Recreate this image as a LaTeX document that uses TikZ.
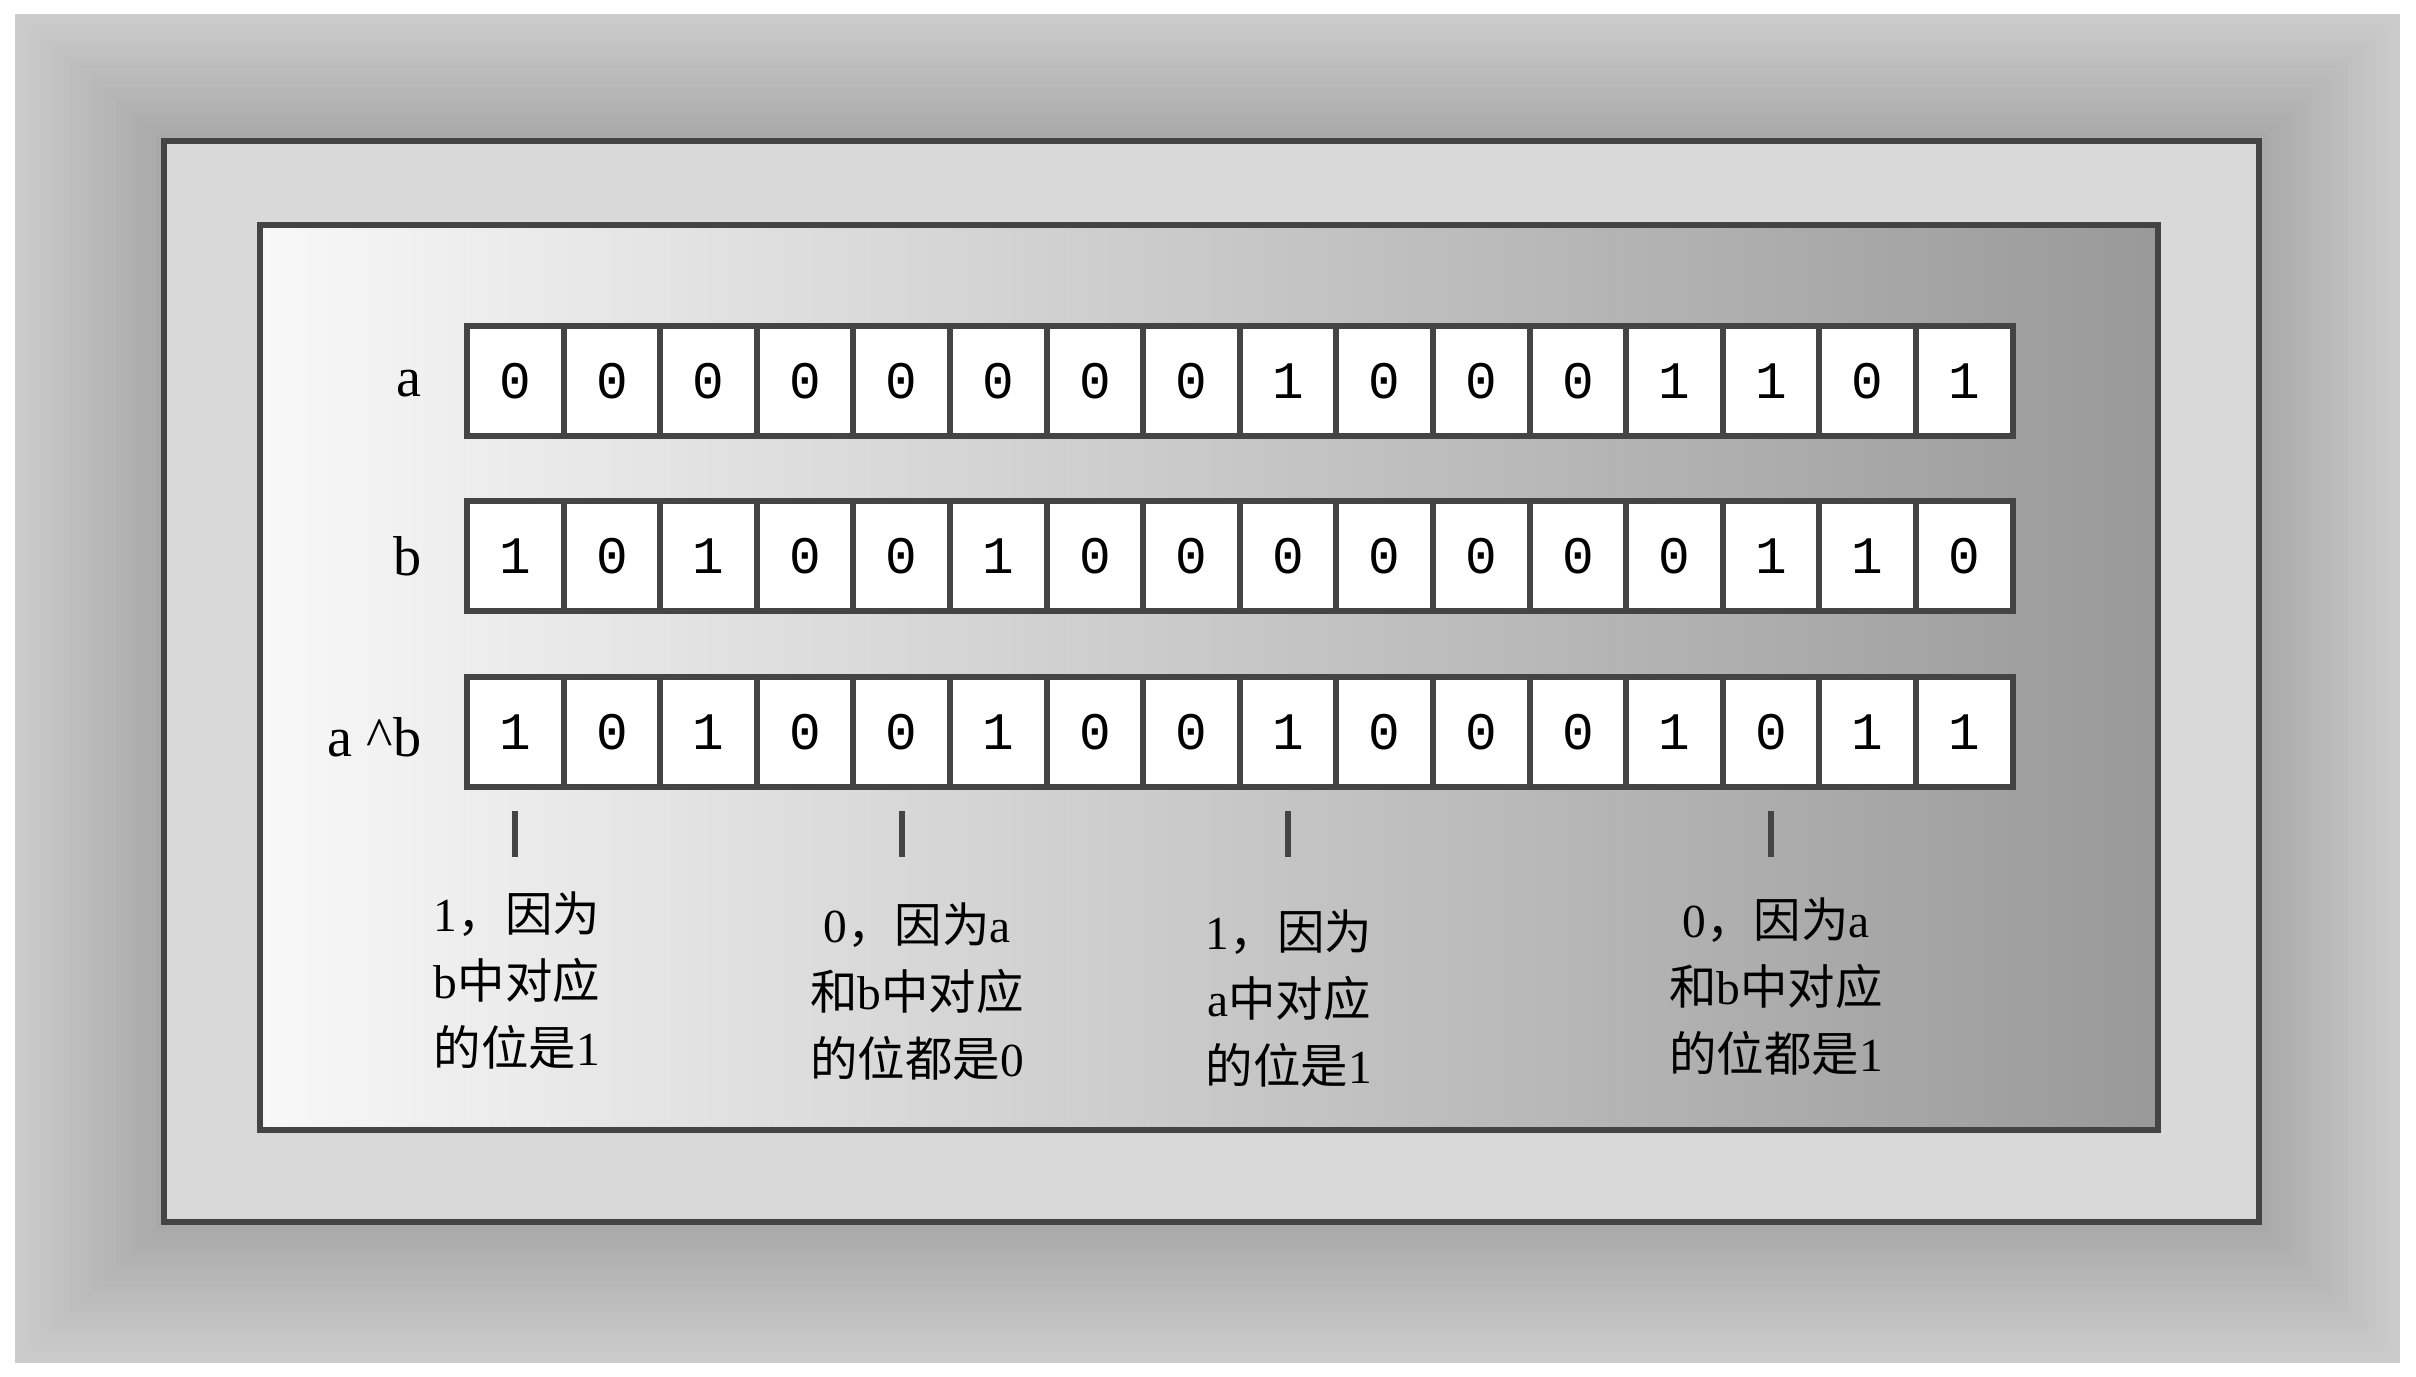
\documentclass[tikz,border=0pt]{standalone}
\usepackage{fontspec}
\setmainfont{Liberation Serif}
\newfontfamily\cjk{Noto Sans CJK SC}
\newfontfamily\mono{Liberation Mono}
\usetikzlibrary{positioning, calc}
\definecolor{edge}{HTML}{444444}
\definecolor{frame}{HTML}{D9D9D9}
\definecolor{haloout}{HTML}{CCCCCC}
\definecolor{haloin}{HTML}{A8A8A8}
\definecolor{panelleft}{HTML}{F8F8F8}
\definecolor{panelright}{HTML}{999999}

\begin{document}
\begin{tikzpicture}[
  cell/.style={draw=edge, line width=0.06cm, fill=white, minimum width=0.966cm, minimum height=1.10cm,
    inner sep=0pt, outer sep=0pt, font=\mono\fontsize{15}{15}\selectfont},
  rowlabel/.style={inner sep=0pt, font=\fontsize{16}{16}\selectfont},
  note/.style={align=center, inner sep=0pt, anchor=north, font=\fontsize{13.5}{19}\selectfont},
  tick/.style={draw=edge, line width=0.06cm}
]
  \useasboundingbox (0,0) rectangle (24.16,13.77);

  % Soft grey halo round the frame
  \foreach \k in {0,...,29} {
    \pgfmathsetmacro{\t}{\k/29}
    \pgfmathsetmacro{\mix}{100*\t}
    \fill[haloin!\mix!haloout] ({0.15+1.46*\t},{0.14+1.38*\t}) rectangle ({24.00-1.38*\t},{13.63-1.24*\t});
  }

  % Frame and inner panel
  \draw[edge, line width=0.06cm, fill=frame] (1.64,1.55) rectangle (22.59,12.36);
  \draw[edge, line width=0.06cm, left color=panelleft, right color=panelright] (2.60,2.47) rectangle (21.58,11.52);

  % Bit rows a, b and a^b
  \foreach \v [count=\i] in {0,0,0,0,0,0,0,0,1,0,0,0,1,1,0,1}
    \node[cell] (a\i) at ({5.153+(\i-1)*0.966},9.96) {\v};
  \foreach \v [count=\i] in {1,0,1,0,0,1,0,0,0,0,0,0,0,1,1,0}
    \node[cell] (b\i) at ({5.153+(\i-1)*0.966},8.205) {\v};
  \foreach \v [count=\i] in {1,0,1,0,0,1,0,0,1,0,0,0,1,0,1,1}
    \node[cell] (r\i) at ({5.153+(\i-1)*0.966},6.445) {\v};

  % Row names
  \node[rowlabel, left=0.45cm of a1, yshift=-0.03cm] (la) {a};
  \node[rowlabel, left=0.45cm of b1] (lb) {b};
  \node[rowlabel, left=0.45cm of r1, yshift=-0.05cm] (lr) {a \textasciicircum b};

  % Ticks under the explained bits
  \foreach \c in {1,5,9,14} {
    \coordinate (t\c) at ([yshift=-0.24cm]r\c.south);
    \draw[tick] (t\c) -- ++(0,-0.46);
  }

  % Explanations
  \node[note] (n1) at (5.17,4.86) {1{\cjk ，因为}\\b{\cjk 中对应}\\{\cjk 的位是}1};
  \node[note] (n2) at (9.17,4.75) {0{\cjk ，因为}a\\{\cjk 和}b{\cjk 中对应}\\{\cjk 的位都是}0};
  \node[note] (n3) at (12.89,4.68) {1{\cjk ，因为}\\a{\cjk 中对应}\\{\cjk 的位是}1};
  \node[note] (n4) at (17.76,4.80) {0{\cjk ，因为}a\\{\cjk 和}b{\cjk 中对应}\\{\cjk 的位都是}1};
\end{tikzpicture}
\end{document}
